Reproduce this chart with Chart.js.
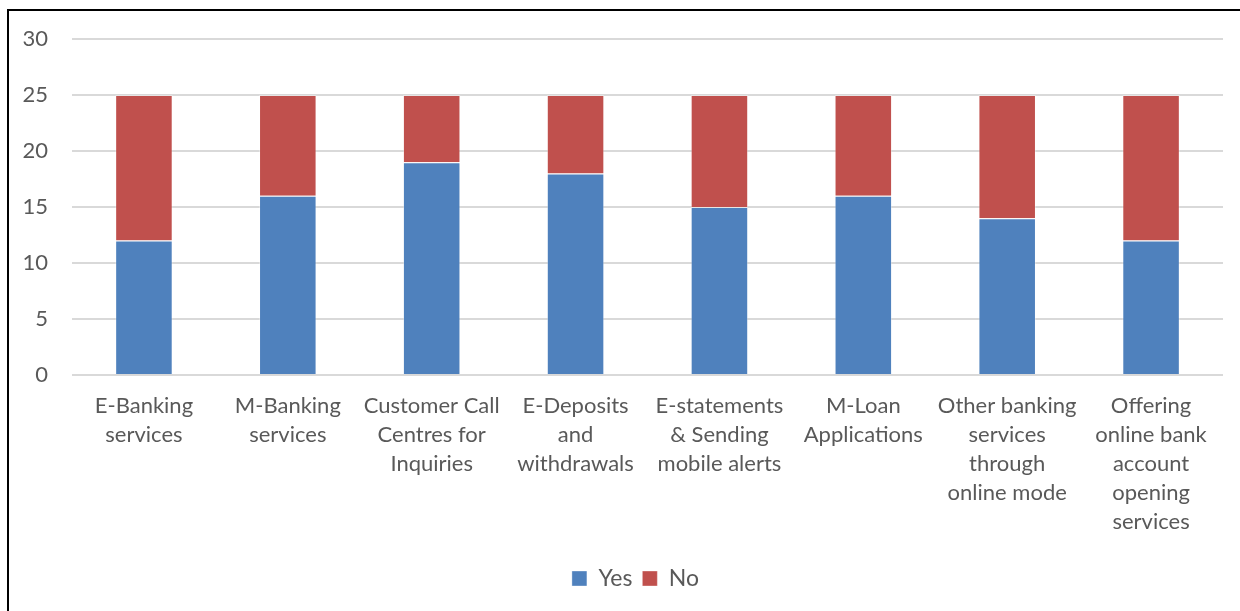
<!DOCTYPE html>
<html>
<head>
<meta charset="utf-8">
<script src="https://cdn.jsdelivr.net/npm/chart.js@4/dist/chart.umd.min.js"></script>
<style>
  html, body { margin: 0; padding: 0; background: #fff; overflow: hidden; }
  #frame {
    position: absolute; left: 7px; top: 9px; width: 1260px; height: 640px;
    border-left: 2px solid #000; border-top: 2px solid #000;
  }
  #wrap { position: absolute; left: 0; top: 0; width: 1240px; height: 611px; }
</style>
</head>
<body>
<div id="frame"></div>
<div id="wrap"><canvas id="chart"></canvas></div>
<script>
// categorias del eje x (una linea por elemento)
const categories = [
  ['E-Banking', 'services'],
  ['M-Banking', 'services'],
  ['Customer Call', 'Centres for', 'Inquiries'],
  ['E-Deposits', 'and', 'withdrawals'],
  ['E-statements', '& Sending', 'mobile alerts'],
  ['M-Loan', 'Applications'],
  ['Other banking', 'services', 'through', 'online mode'],
  ['Offering', 'online bank', 'account', 'opening', 'services']
];
const yesValues = [12, 16, 19, 18, 15, 16, 14, 12];
const noValues = [13, 9, 6, 7, 10, 9, 11, 13];
const yTicks = [0, 5, 10, 15, 20, 25, 30];

const textColor = '#595959';
const fontFamily = 'Lato, "Open Sans", sans-serif';

// mueve la leyenda para que quede centrada bajo el area de barras
const legendShift = {
  id: 'legendShift',
  afterLayout(chart) {
    const lg = chart.legend;
    const offset = (chart.chartArea.left + chart.chartArea.right) / 2 - (lg.left + lg.right) / 2 - 12;
    lg.left += offset;
    lg.right += offset;
  }
};

const ctx = document.getElementById('chart').getContext('2d');
new Chart(ctx, {
  type: 'bar',
  data: {
    labels: categories,
    datasets: [{
      label: 'Yes',
      data: yesValues,
      backgroundColor: '#4F81BD',
      borderColor: 'rgba(255,255,255,0.35)',
      borderWidth: 1,
      barPercentage: 0.4,
      categoryPercentage: 1
    }, {
      label: 'No',
      data: noValues,
      backgroundColor: '#C0504D',
      borderColor: 'rgba(255,255,255,0.35)',
      borderWidth: 1,
      barPercentage: 0.4,
      categoryPercentage: 1
    }]
  },
  options: {
    responsive: true,
    maintainAspectRatio: false,
    animation: false,
    layout: { padding: { left: 0, right: 17, top: 39, bottom: 11 } },
    scales: {
      x: {
        stacked: true,
        grid: { display: false, drawTicks: false },
        border: { display: false },
        ticks: {
          color: textColor,
          font: { family: fontFamily, size: 22, lineHeight: 1.318 },
          padding: 16,
          maxRotation: 0,
          autoSkip: false
        },
        afterFit: (axis) => { axis.height = 182; }
      },
      y: {
        stacked: true,
        min: 0,
        max: 30,
        afterBuildTicks: (axis) => { axis.ticks = yTicks.map(v => ({ value: v })); },
        grid: { color: '#d9d9d9', lineWidth: 2, drawTicks: false },
        border: { display: false },
        ticks: {
          color: textColor,
          font: { family: fontFamily, size: 22 },
          padding: 24
        },
        afterFit: (axis) => { axis.width = 72; }
      }
    },
    plugins: {
      legend: {
        position: 'bottom',
        labels: {
          color: textColor,
          font: { family: fontFamily, size: 23 },
          boxWidth: 15,
          boxHeight: 15,
          padding: 10
        }
      },
      tooltip: { enabled: false }
    }
  },
  plugins: [legendShift]
});
</script>
</body>
</html>
